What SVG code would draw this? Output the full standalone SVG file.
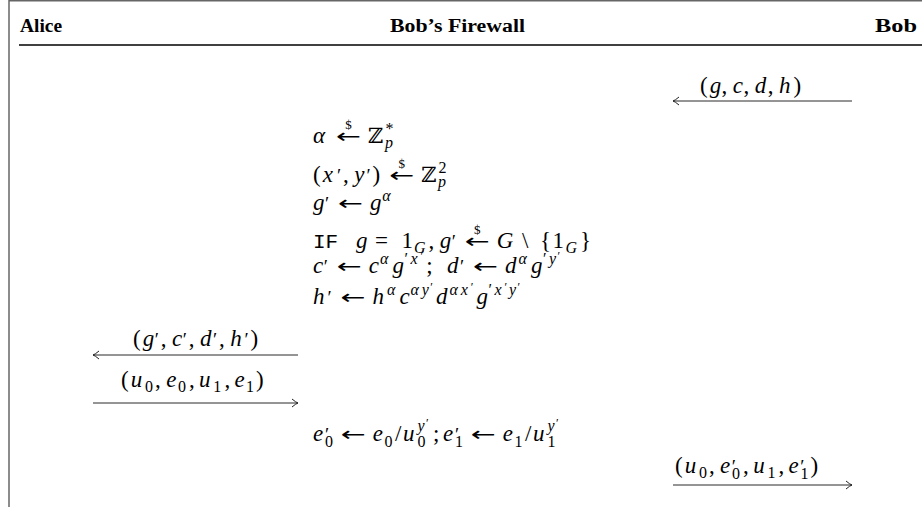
<svg xmlns="http://www.w3.org/2000/svg" width="922" height="507" viewBox="0 0 922 507">
<style>
.m{font-family:"Liberation Serif","DejaVu Serif",serif;font-size:23px;fill:#000}
.i{font-style:italic}
.s{font-size:16px}
.ss{font-size:12px}
.pr{font-size:19px}
.z{font-family:"DejaVu Serif",serif;font-size:21px}
.ar{font-family:"DejaVu Sans",sans-serif;font-size:20px;fill:#000}
.d{font-family:"Liberation Serif","DejaVu Serif",serif;font-size:13px;fill:#000;text-anchor:middle}
.h{font-family:"Liberation Serif",serif;font-weight:bold;font-size:18px;fill:#000}
.tt{font-family:"Liberation Mono",monospace;font-size:21px}
.ln{stroke:#2a2a2a;stroke-width:1;fill:none}
</style>
<defs>
<marker id="ah" viewBox="-8 -5 10 10" refX="0" refY="0" markerWidth="10" markerHeight="10" orient="auto" markerUnits="userSpaceOnUse">
<path d="M-6,-4 Q-2,-0.6 0,0 Q-2,0.6 -6,4" fill="none" stroke="#222" stroke-width="1"/>
</marker>
</defs>
<g id="frame">
<line x1="9" y1="0.8" x2="922" y2="0.8" stroke="#666" stroke-width="1.5"/>
<line x1="9" y1="0" x2="9" y2="507" stroke="#666" stroke-width="1.5"/>
<line x1="19" y1="45" x2="922" y2="45" stroke="#000" stroke-width="1.3"/>
</g>
<g id="alice"><text class="h" x="20" y="32" textLength="42" lengthAdjust="spacingAndGlyphs">Alice</text></g>
<g id="firewall"><text class="h" x="390" y="32" textLength="135" lengthAdjust="spacingAndGlyphs">Bob’s Firewall</text></g>
<g id="bob"><text class="h" x="875" y="32" textLength="42" lengthAdjust="spacingAndGlyphs">Bob</text></g>
<g id="connectors">
<line class="ln" x1="852" y1="101" x2="673" y2="101" marker-end="url(#ah)"/>
<line class="ln" x1="298" y1="355" x2="93" y2="355" marker-end="url(#ah)"/>
<line class="ln" x1="93" y1="403" x2="298" y2="403" marker-end="url(#ah)"/>
<line class="ln" x1="673" y1="485" x2="852" y2="485" marker-end="url(#ah)"/>
</g>
<g id="msg1"><text class="m" y="93"><tspan x="700">(</tspan><tspan x="709.7" class="i">g</tspan><tspan x="721.6">,</tspan><tspan x="732.8" class="i">c</tspan><tspan x="743.6">,</tspan><tspan x="754.8" class="i">d</tspan><tspan x="767.8">,</tspan><tspan x="779" class="i">h</tspan><tspan x="793.4">)</tspan></text></g>
<g id="msg2"><text class="m" y="346"><tspan x="133">(</tspan><tspan x="142.7" class="i">g</tspan><tspan x="154.8" class="pr">′</tspan><tspan x="160.8">,</tspan><tspan x="172" class="i">c</tspan><tspan x="182.8" class="pr">′</tspan><tspan x="188.8">,</tspan><tspan x="200" class="i">d</tspan><tspan x="213" class="pr">′</tspan><tspan x="219">,</tspan><tspan x="230.2" class="i">h</tspan><tspan x="244.6" class="pr">′</tspan><tspan x="250.6">)</tspan></text></g>
<g id="msg3"><text class="m" y="387"><tspan x="121">(</tspan><tspan x="130.7" class="i">u</tspan><tspan x="145" y="392" class="s">0</tspan><tspan x="155" y="387">,</tspan><tspan x="166.2" class="i">e</tspan><tspan x="177.9" y="392" class="s">0</tspan><tspan x="189" y="387">,</tspan><tspan x="199" class="i">u</tspan><tspan x="213.3" y="392" class="s">1</tspan><tspan x="224.5" y="387">,</tspan><tspan x="234.4" class="i">e</tspan><tspan x="246.1" y="392" class="s">1</tspan><tspan x="256" y="387">)</tspan></text></g>
<g id="msg4"><text class="m" y="473"><tspan x="675">(</tspan><tspan x="684.7" class="i">u</tspan><tspan x="699" y="478" class="s">0</tspan><tspan x="709" y="473">,</tspan><tspan x="720.1" class="i">e</tspan><tspan x="731.8" class="pr">′</tspan><tspan x="732" y="479" class="s">0</tspan><tspan x="743" y="473">,</tspan><tspan x="753.2" class="i">u</tspan><tspan x="767.5" y="478" class="s">1</tspan><tspan x="778.6" y="473">,</tspan><tspan x="788.6" class="i">e</tspan><tspan x="800.3" class="pr">′</tspan><tspan x="800.5" y="479" class="s">1</tspan><tspan x="810.5" y="473">)</tspan></text></g>
<g id="firewall-steps">
<text class="m" y="143"><tspan x="313" class="i">α</tspan><tspan x="368" class="z">ℤ</tspan><tspan x="385.5" y="134" class="s">*</tspan><tspan x="385" y="148" class="s i">p</tspan></text>
<text class="ar" x="336" y="143" textLength="25" lengthAdjust="spacingAndGlyphs">←</text>
<text class="d" x="348.5" y="129">$</text>
<text class="m" y="182"><tspan x="313">(</tspan><tspan x="322.7" class="i">x</tspan><tspan x="337" class="pr">′</tspan><tspan x="343">,</tspan><tspan x="354.2" class="i">y</tspan><tspan x="366.5" class="pr">′</tspan><tspan x="372.5">)</tspan><tspan x="421.2" class="z">ℤ</tspan><tspan x="438.5" y="173" class="s">2</tspan><tspan x="438" y="187" class="s i">p</tspan></text>
<text class="ar" x="389.2" y="182" textLength="25" lengthAdjust="spacingAndGlyphs">←</text>
<text class="d" x="401.7" y="168">$</text>
<text class="m" y="210"><tspan x="313" class="i">g</tspan><tspan x="324.9" class="pr">′</tspan><tspan x="369.9" class="i">g</tspan><tspan x="382.3" y="201" class="s i">α</tspan></text>
<text class="ar" x="337.9" y="210" textLength="25" lengthAdjust="spacingAndGlyphs">←</text>
<text class="m" y="248"><tspan x="313" class="tt">IF</tspan><tspan x="356" class="i">g</tspan><tspan x="374.9">=</tspan><tspan x="401.4">1</tspan><tspan x="414" y="253" class="s i">G</tspan><tspan x="428.6" y="248">,</tspan><tspan x="439.8" class="i">g</tspan><tspan x="451.7" class="pr">′</tspan><tspan x="496.7" class="i">G</tspan><tspan x="522">\</tspan><tspan x="540.1">{</tspan><tspan x="552.6">1</tspan><tspan x="565.5" y="253" class="s i">G</tspan><tspan x="580" y="248">}</tspan></text>
<text class="ar" x="464.7" y="248" textLength="25" lengthAdjust="spacingAndGlyphs">←</text>
<text class="d" x="477.2" y="234">$</text>
<text class="m" y="273"><tspan x="313" class="i">c</tspan><tspan x="323.8" class="pr">′</tspan><tspan x="368.8" class="i">c</tspan><tspan x="380" y="264" class="s i">α</tspan><tspan x="392.4" y="273" class="i">g</tspan><tspan x="404.5" y="264" class="s">′</tspan><tspan x="410.5" y="264" class="s i">x</tspan><tspan x="420.5" y="260" class="ss">′</tspan><tspan x="426.2" y="273">;</tspan><tspan x="447" class="i">d</tspan><tspan x="460" class="pr">′</tspan><tspan x="505" class="i">d</tspan><tspan x="518.5" y="264" class="s i">α</tspan><tspan x="531" y="273" class="i">g</tspan><tspan x="543" y="264" class="s">′</tspan><tspan x="549" y="264" class="s i">y</tspan><tspan x="557.6" y="260" class="ss">′</tspan></text>
<text class="ar" x="336.8" y="273" textLength="25" lengthAdjust="spacingAndGlyphs">←</text>
<text class="ar" x="473" y="273" textLength="25" lengthAdjust="spacingAndGlyphs">←</text>
<text class="m" y="304"><tspan x="313" class="i">h</tspan><tspan x="327.4" class="pr">′</tspan><tspan x="372.4" class="i">h</tspan><tspan x="387" y="295" class="s i">α</tspan><tspan x="399.4" y="304" class="i">c</tspan><tspan x="410.5" y="295" class="s i">α</tspan><tspan x="421.7" y="295" class="s i">y</tspan><tspan x="430.3" y="291" class="ss">′</tspan><tspan x="436" y="304" class="i">d</tspan><tspan x="449.5" y="295" class="s i">α</tspan><tspan x="460.7" y="295" class="s i">x</tspan><tspan x="470.7" y="291" class="ss">′</tspan><tspan x="476.4" y="304" class="i">g</tspan><tspan x="488.5" y="295" class="s">′</tspan><tspan x="494.5" y="295" class="s i">x</tspan><tspan x="504.5" y="291" class="ss">′</tspan><tspan x="509" y="295" class="s i">y</tspan><tspan x="517.6" y="291" class="ss">′</tspan></text>
<text class="ar" x="340.4" y="304" textLength="25" lengthAdjust="spacingAndGlyphs">←</text>
<text class="m" y="441"><tspan x="313" class="i">e</tspan><tspan x="325" class="pr">′</tspan><tspan x="325" y="447" class="s">0</tspan><tspan x="372.8" y="441" class="i">e</tspan><tspan x="384.5" y="447" class="s">0</tspan><tspan x="395" y="441">/</tspan><tspan x="403" class="i">u</tspan><tspan x="417.5" y="431" class="s i">y</tspan><tspan x="426.1" y="427" class="ss">′</tspan><tspan x="417.5" y="447" class="s">0</tspan><tspan x="433" y="441">;</tspan><tspan x="443" class="i">e</tspan><tspan x="455" class="pr">′</tspan><tspan x="455" y="447" class="s">1</tspan><tspan x="502.8" y="441" class="i">e</tspan><tspan x="514.5" y="447" class="s">1</tspan><tspan x="525" y="441">/</tspan><tspan x="533" class="i">u</tspan><tspan x="547.5" y="431" class="s i">y</tspan><tspan x="556.1" y="427" class="ss">′</tspan><tspan x="547.5" y="447" class="s">1</tspan></text>
<text class="ar" x="340.8" y="441" textLength="25" lengthAdjust="spacingAndGlyphs">←</text>
<text class="ar" x="470.8" y="441" textLength="25" lengthAdjust="spacingAndGlyphs">←</text>
</g>
</svg>
